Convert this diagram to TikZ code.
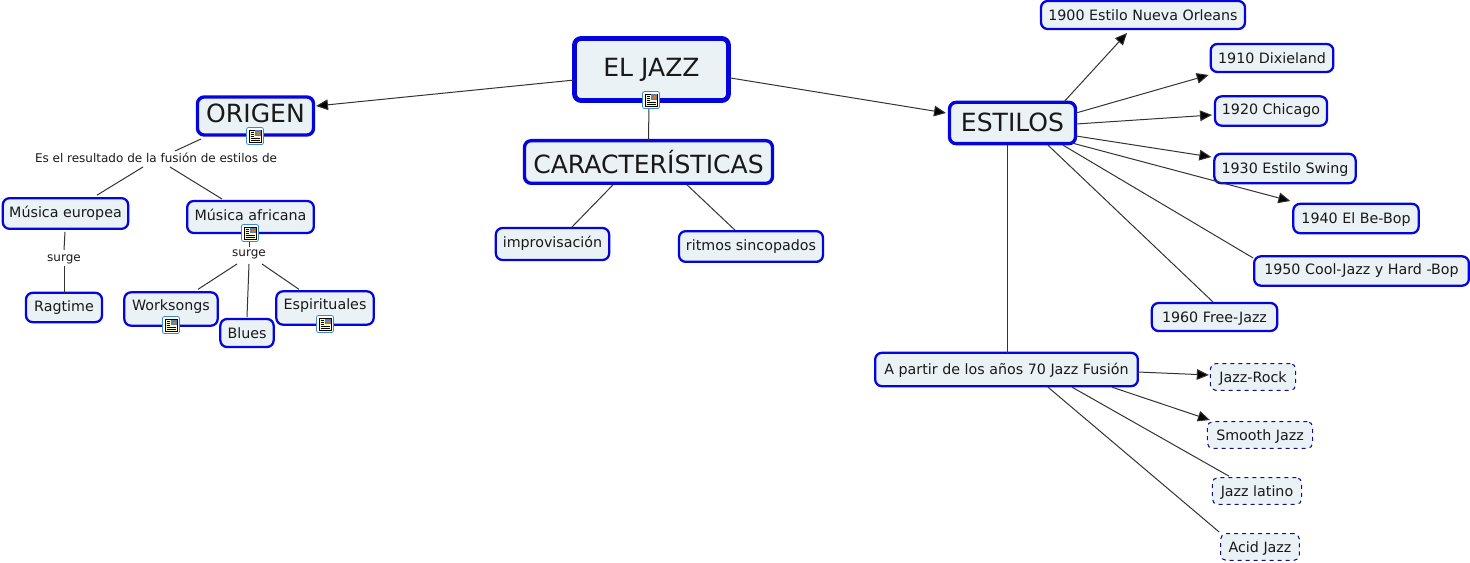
\documentclass[tikz,border=0pt]{standalone}
\usepackage{fontspec}
\setmainfont{DejaVu Sans}
\usepackage{xcolor}
\usetikzlibrary{arrows.meta,positioning}
\definecolor{colfill}{HTML}{EBF2F6}
\definecolor{colblue}{HTML}{0404DC}
\definecolor{colnavy}{HTML}{10108C}
\definecolor{colicon}{HTML}{3F86D0}
\definecolor{colpage}{HTML}{FFFBC4}

\begin{document}
\begin{tikzpicture}[
  x=0.75pt,y=-0.75pt,
  cbox/.style={draw=colblue,fill=colfill,rounded corners=5pt,inner sep=0pt,outer sep=0pt,text=black!90},
  mainbox/.style={cbox,line width=3.6pt,font=\fontsize{18.8}{22}\selectfont},
  topbox/.style={cbox,line width=2.5pt,font=\fontsize{18.8}{22}\selectfont},
  subbox/.style={cbox,line width=1.7pt,text height=8.5pt,text depth=0.7pt,font=\fontsize{10.7}{13}\selectfont},
  dashbox/.style={cbox,draw=colnavy,line width=0.8pt,dashed,rounded corners=4pt,text height=8.5pt,text depth=0.7pt,font=\fontsize{10.7}{13}\selectfont},
  lifted/.style={text depth=2.7pt},
  phrase/.style={inner sep=0pt,outer sep=0pt,minimum height=12pt,text height=7pt,text depth=2pt,font=\fontsize{9}{11}\selectfont,text=black!90},
  lnk/.style={draw=black!80,line width=0.75pt},
  arr/.style={lnk,-{Triangle[length=9pt,width=8pt,fill=black]}},
  docicon/.pic={
    \draw[colicon,fill=white,rounded corners=1.5pt,line width=0.6pt] (-8.5,-8.5) rectangle (8.5,8.5);
    \draw[black,fill=colpage,line width=0.6pt] (-6,-6) rectangle (6,6);
    \fill[colicon!70!gray] (0,-5.5) rectangle (5.5,0);
    \fill[orange!80!red] (2,-3.5) rectangle (4.5,-1);
    \foreach \yy in {-3.5,-1.5,0.5} \draw[black,line width=0.4pt] (-4.5,\yy) -- (-1,\yy);
    \draw[black,line width=0.4pt] (-4.5,2.5) -- (4.5,2.5);
    \draw[black,line width=0.4pt] (-4.5,4.3) -- (4.5,4.3);
  }
]
  \useasboundingbox (0,0) rectangle (1470,563);
  % centre
  \node[mainbox,minimum width=115.5pt,minimum height=46.5pt,text height=14pt,text depth=2.8pt] (jazz) at (651.5,69.5) {EL JAZZ};
  \node[topbox,minimum width=87pt,minimum height=28.5pt,text height=14pt,text depth=3.5pt] (origen) at (255.5,116) {ORIGEN};
  \node[topbox,minimum width=186pt,minimum height=32pt,text height=20pt,text depth=2pt] (carac) at (648.5,162) {CARACTERÍSTICAS};
  \node[topbox,minimum width=94.5pt,minimum height=31pt,text height=15pt,text depth=1.5pt] (estilos) at (1012.5,123) {ESTILOS};
  \node[subbox,lifted,minimum width=85pt,minimum height=24pt] (improv) at (552.5,244) {improvisación};
  \node[subbox,lifted,minimum width=108pt,minimum height=23pt] (ritmos) at (751,246.5) {ritmos sincopados};
  % origen
  \node[phrase] (fusionde) at (156,159) {Es el resultado de la fusión de estilos de};
  \node[subbox,lifted,minimum width=94pt,minimum height=23pt] (europea) at (65.5,213.5) {Música europea};
  \node[subbox,text depth=3.7pt,minimum width=95pt,minimum height=24pt] (africana) at (250.5,217) {Música africana};
  \node[phrase] (surgeA) at (64,258) {surge};
  \node[subbox,lifted,minimum width=57pt,minimum height=22pt] (ragtime) at (64,307.5) {Ragtime};
  \node[phrase] (surgeB) at (249,253) {surge};
  \node[subbox,text depth=6.7pt,minimum width=70pt,minimum height=25pt] (work) at (171,309) {Worksongs};
  \node[subbox,minimum width=40pt,minimum height=21pt] (blues) at (247,333) {Blues};
  \node[subbox,text depth=6.7pt,minimum width=73pt,minimum height=25pt] (espir) at (325,308) {Espirituales};
  % estilos
  \node[subbox,minimum width=153pt,minimum height=21pt] (n1900) at (1143,15) {1900 Estilo Nueva Orleans};
  \node[subbox,minimum width=92pt,minimum height=21pt] (n1910) at (1272,58) {1910 Dixieland};
  \node[subbox,lifted,minimum width=84pt,minimum height=22pt] (n1920) at (1271,111) {1920 Chicago};
  \node[subbox,minimum width=106pt,minimum height=22pt] (n1930) at (1285,168.5) {1930 Estilo Swing};
  \node[subbox,minimum width=94pt,minimum height=22pt] (n1940) at (1356,218.5) {1940 El Be-Bop};
  \node[subbox,lifted,minimum width=161pt,minimum height=22pt] (n1950) at (1361.5,271) {1950 Cool-Jazz y Hard -Bop};
  \node[subbox,minimum width=94pt,minimum height=21pt] (n1960) at (1214.5,317) {1960 Free-Jazz};
  \node[subbox,minimum width=197pt,minimum height=25pt] (n1970) at (1006.5,369.5) {A partir de los años 70 Jazz Fusión};
  \node[dashbox,minimum width=64pt,minimum height=20pt] (rock) at (1253,377) {Jazz-Rock};
  \node[dashbox,minimum width=79pt,minimum height=20pt] (smooth) at (1260,435) {Smooth Jazz};
  \node[dashbox,minimum width=67pt,minimum height=20pt] (latino) at (1257,491) {Jazz latino};
  \node[dashbox,minimum width=59pt,minimum height=20pt] (acid) at (1260,547) {Acid Jazz};
  % links
  \draw[arr] ([shift={(0,10.5)}]jazz.west) -- ([shift={(2.5,-10)}]origen.east);
  \draw[arr] ([shift={(2,8.5)}]jazz.east) -- ([shift={(-3.5,-10)}]estilos.west);
  \draw[lnk] ([shift={(-2.5,3)}]jazz.south) -- (carac.north);
  \draw[lnk] ([shift={(-35.5,1.5)}]carac.south) -- ([shift={(19.5,-1)}]improv.north);
  \draw[lnk] ([shift={(38.5,1.5)}]carac.south) -- ([shift={(-16,-1)}]ritmos.north);
  \draw[lnk] ([shift={(-54.5,4)}]origen.south) -- ([shift={(19,0)}]fusionde.north);
  \draw[lnk] ([shift={(-13,0)}]fusionde.south) -- ([shift={(31.5,-3)}]europea.north);
  \draw[lnk] ([shift={(14,0)}]fusionde.south) -- ([shift={(-28.5,-2)}]africana.north);
  \draw[lnk] ([shift={(-0.5,3)}]europea.south) -- (surgeA.north);
  \draw[lnk] (surgeA.south) -- (ragtime.north);
  \draw[lnk] ([shift={(-1,9)}]africana.south) -- ([shift={(0.5,2)}]surgeB.north);
  \draw[lnk] ([shift={(-12,3)}]surgeB.south) -- ([shift={(27,-3)}]work.north);
  \draw[lnk] ([shift={(0,3)}]surgeB.south) -- ([shift={(0,-2)}]blues.north);
  \draw[lnk] ([shift={(13,3)}]surgeB.south) -- ([shift={(-26,-2)}]espir.north);
  \draw[arr] ([shift={(51.5,-0.5)}]estilos.north) -- ([shift={(-16,4)}]n1900.south);
  \draw[arr] ([shift={(0.5,-10)}]estilos.east) -- ([shift={(-2,17)}]n1910.west);
  \draw[arr] ([shift={(0.5,1)}]estilos.east) -- ([shift={(-3,4)}]n1920.west);
  \draw[arr] ([shift={(0.5,13)}]estilos.east) -- ([shift={(-3,-11.5)}]n1930.west);
  \draw[arr] ([shift={(-3.5,20)}]estilos.east) -- ([shift={(-3,-17.5)}]n1940.west);
  \draw[lnk] ([shift={(50.5,1.5)}]estilos.south) -- ([shift={(-1,-13)}]n1950.west);
  \draw[lnk] ([shift={(35.5,1.5)}]estilos.south) -- ([shift={(-1.5,-1)}]n1960.north);
  \draw[lnk] ([shift={(-5.5,1.5)}]estilos.south) -- ([shift={(0.5,0)}]n1970.north);
  \draw[arr] ([shift={(0,2.5)}]n1970.east) -- ([shift={(-1.5,-2)}]rock.west);
  \draw[arr] ([shift={(105.5,1)}]n1970.south) -- ([shift={(2.5,-15)}]smooth.west);
  \draw[lnk] ([shift={(65.5,1)}]n1970.south) -- ([shift={(-28,-1.5)}]latino.north);
  \draw[lnk] ([shift={(41.5,1)}]n1970.south) -- ([shift={(-1.5,-15)}]acid.west);
  % icons
  \pic at (651,100) {docicon};
  \pic at (255,136) {docicon};
  \pic at (250,233) {docicon};
  \pic at (171,325) {docicon};
  \pic at (325,324) {docicon};
\end{tikzpicture}
\end{document}
